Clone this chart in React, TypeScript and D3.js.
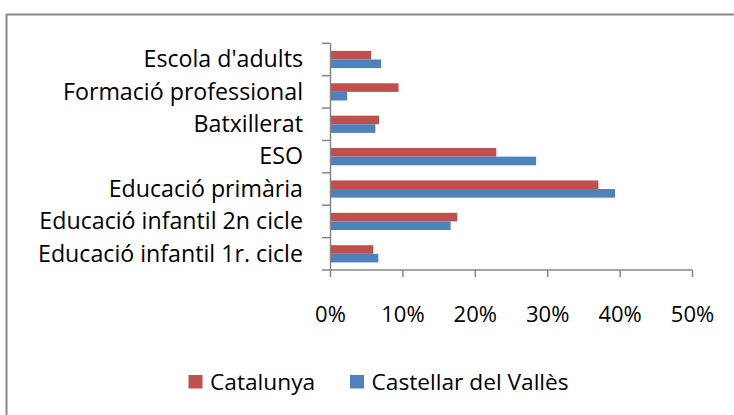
import React from "react";
import * as d3 from "d3";

const categories = [
  "Escola d'adults",
  "Formació professional",
  "Batxillerat",
  "ESO",
  "Educació primària",
  "Educació infantil 2n cicle",
  "Educació infantil 1r. cicle",
];
const seriesNames = ["Catalunya", "Castellar del Vallès"];
const catalunya = [5.6, 9.4, 6.7, 22.9, 37.0, 17.5, 5.9];
const castellar = [7.0, 2.3, 6.2, 28.4, 39.3, 16.6, 6.6];
const xTicks = [0, 10, 20, 30, 40, 50];
const colors = ["#C0504D", "#4F81BD"];

const W = 734;
const H = 415;
const FONT = "'Open Sans', Lato, sans-serif";

export default function App() {
  const x = d3.scaleLinear().domain([0, 50]).range([330.5, 692.5]);
  const y = d3.scaleBand<string>().domain(categories).range([43.3, 270]).padding(0);
  const sub = d3
    .scaleBand<string>()
    .domain(seriesNames)
    .range([0, y.bandwidth()])
    .paddingInner(0)
    .paddingOuter(0.88);
  const series = [catalunya, castellar];
  const axisColor = "#868686";

  return (
    <svg
      width={W}
      height={H}
      style={{ position: "absolute", left: 0, top: 0, background: "#fff" }}
      fontFamily={FONT}
    >
      <rect x={0} y={0} width={W} height={H} fill="#fff" />
      {/* frame */}
      <path d={`M6.5,${H + 5} L6.5,14.5 L${W + 5},14.5`} fill="none" stroke="#898989" strokeWidth={2} />

      {/* bars */}
      {categories.map((c, i) => (
        <g key={c}>
          {series.map((s, k) => (
            <rect
              key={k}
              x={x(0)}
              y={(y(c) as number) + (sub(seriesNames[k]) as number)}
              width={x(s[i]) - x(0)}
              height={sub.bandwidth()}
              fill={colors[k]}
            />
          ))}
        </g>
      ))}

      {/* y axis */}
      <line x1={x(0)} x2={x(0)} y1={43.3} y2={270} stroke={axisColor} strokeWidth={1.5} />
      {[...categories.map((c) => y(c) as number), 270].map((v, i) => (
        <line key={i} x1={322} x2={x(0)} y1={v} y2={v} stroke={axisColor} strokeWidth={1.5} />
      ))}
      {categories.map((c) => (
        <text
          key={c}
          x={303}
          y={(y(c) as number) + y.bandwidth() / 2 + 7.8}
          textAnchor="end"
          fontSize={23.2}
          fill="#000"
        >
          {c}
        </text>
      ))}

      {/* x axis */}
      <line x1={x(0)} x2={x(50)} y1={270} y2={270} stroke={axisColor} strokeWidth={1.5} />
      {xTicks.map((t) => (
        <g key={t}>
          <line x1={x(t)} x2={x(t)} y1={270} y2={277} stroke={axisColor} strokeWidth={1.5} />
          <text x={x(t)} y={321.5} textAnchor="middle" fontSize={22} fill="#000">
            {t}%
          </text>
        </g>
      ))}

      {/* legend */}
      {seriesNames.map((n, k) => {
        const lx = k === 0 ? 188.5 : 350;
        return (
          <g key={n}>
            <rect x={lx} y={375} width={14} height={13.5} fill={colors[k]} />
            <text x={lx + 21.5} y={390} fontSize={22.7} fill="#000">
              {n}
            </text>
          </g>
        );
      })}
    </svg>
  );
}
